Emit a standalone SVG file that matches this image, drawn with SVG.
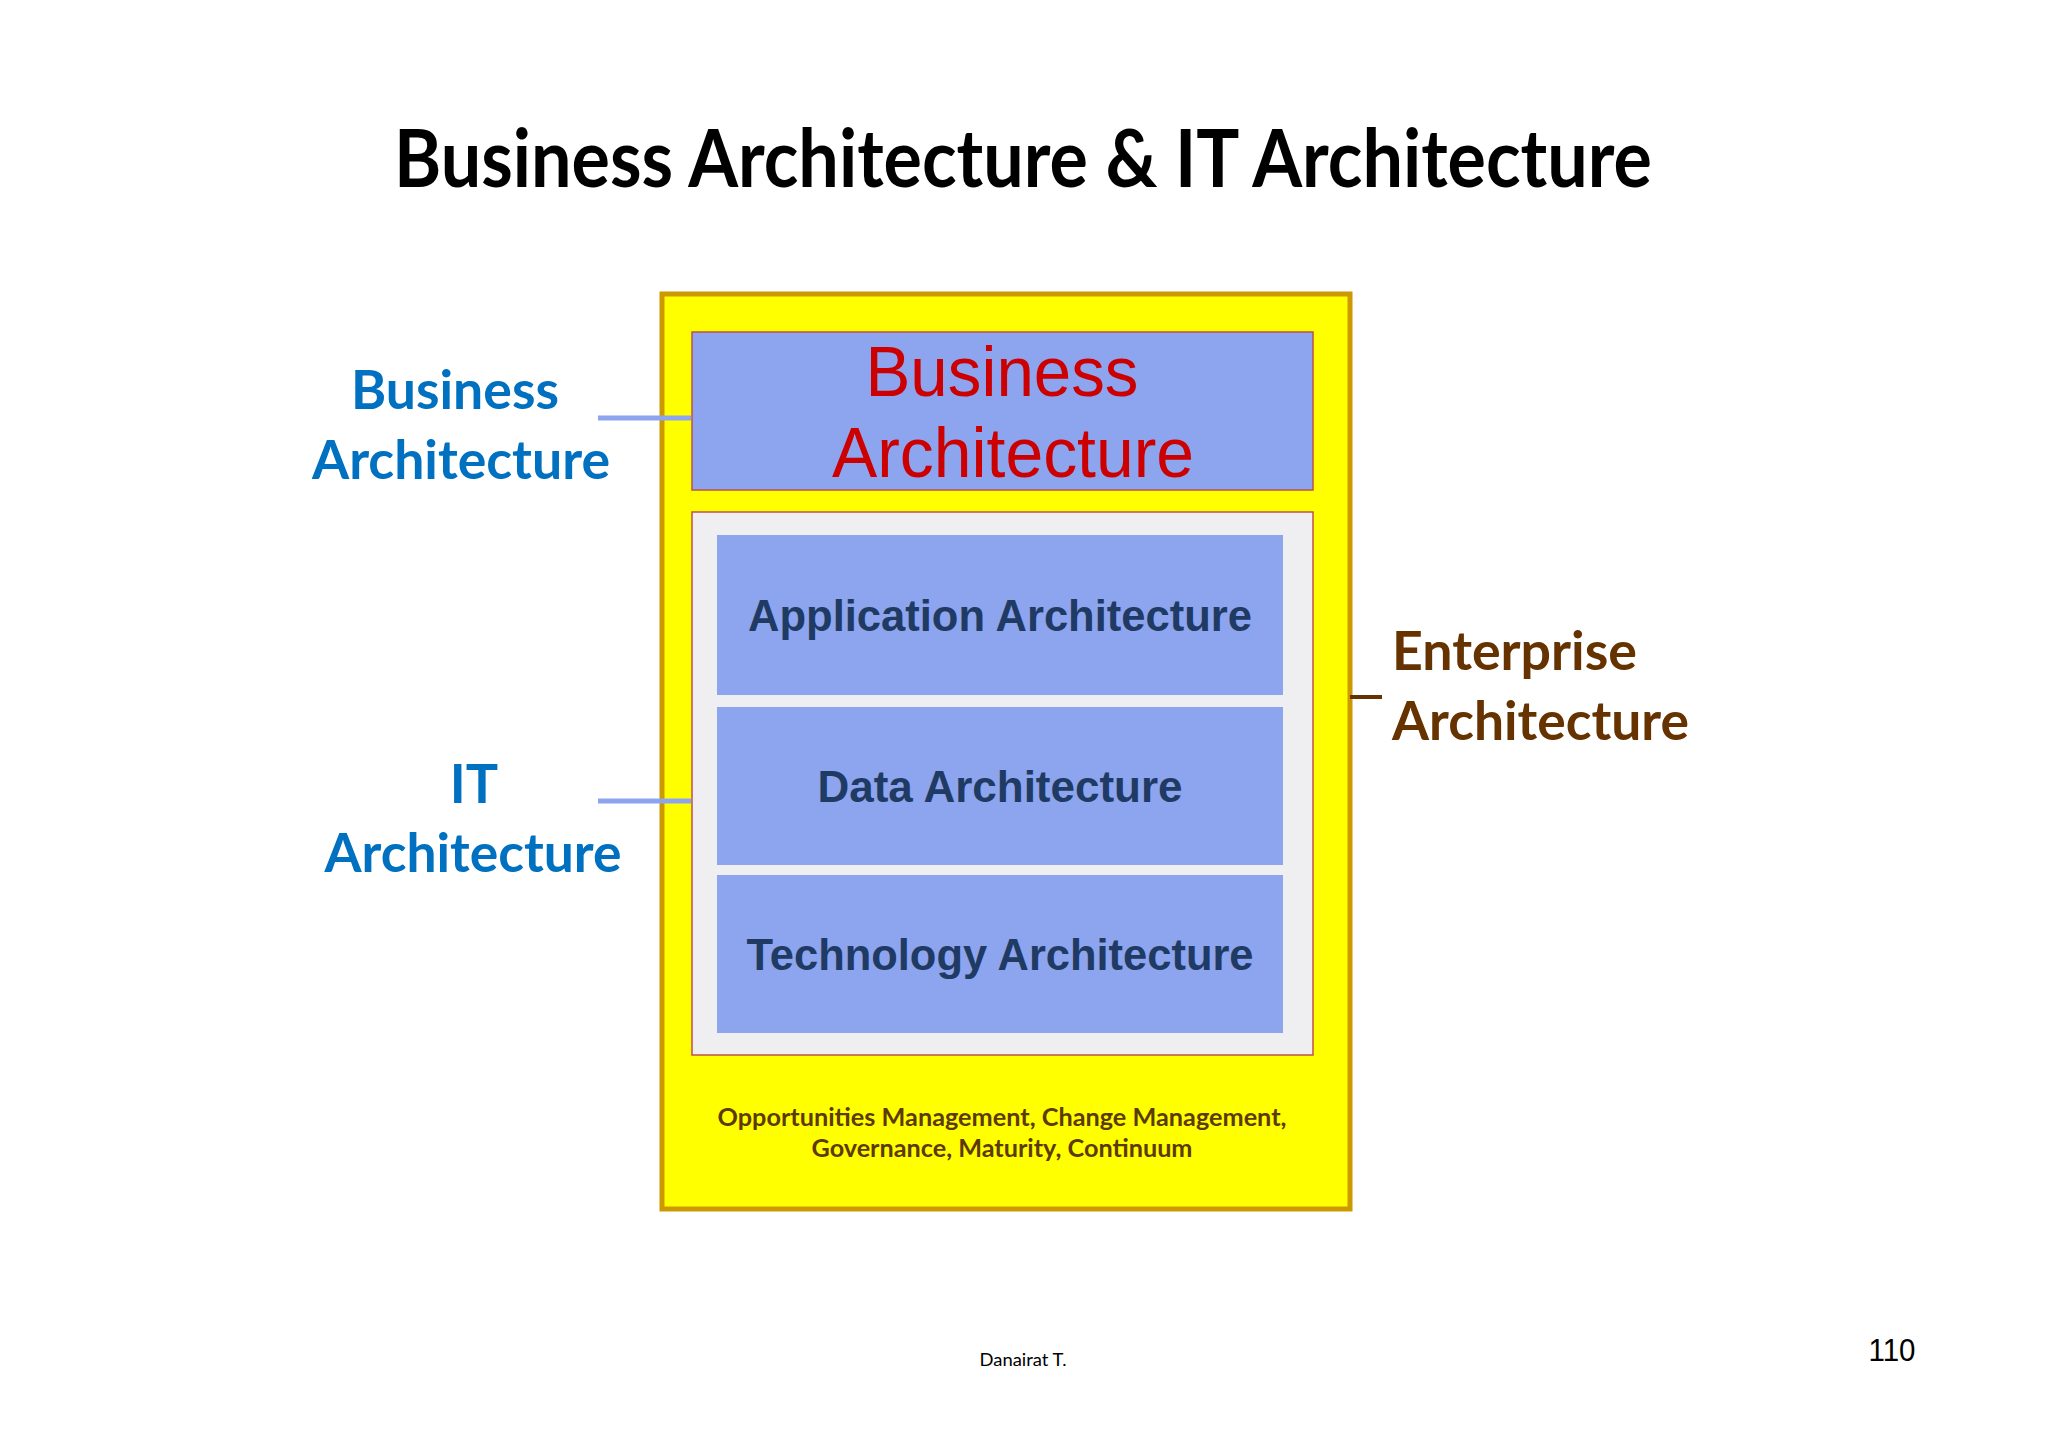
<svg xmlns="http://www.w3.org/2000/svg" width="2048" height="1448" viewBox="0 0 2048 1448">
<style>
.cal{font-family:Lato,"Open Sans","Liberation Sans",sans-serif;font-weight:bold}
.ari{font-family:"Liberation Sans",Arial,sans-serif}
.blue{fill:#8DA4EF}
.box{stroke:#C0504D;stroke-width:1.5}
.inner{fill:#1F3A63;font-size:44px;font-weight:bold;text-anchor:middle}
.lbl{fill:#0070C0;font-size:54px;text-anchor:middle}
.ent{fill:#663300;font-size:54px}
.conn{stroke:#8DA4EF;stroke-width:5;fill:none}
</style>
<rect width="2048" height="1448" fill="#FFFFFF"/>
<g id="title">
<text class="cal" x="1023" y="187" font-size="80" text-anchor="middle" textLength="1258" lengthAdjust="spacingAndGlyphs" fill="#000000">Business Architecture &amp; IT Architecture</text>
</g>
<g id="enterprise-architecture">
<rect x="662" y="294" width="688" height="915" fill="#FFFF00" stroke="#CC9900" stroke-width="5"/>
<text class="cal" x="1002" y="1126" font-size="25" text-anchor="middle" textLength="569" lengthAdjust="spacingAndGlyphs" fill="#5C3A00">Opportunities Management, Change Management,</text>
<text class="cal" x="1002" y="1157" font-size="25" text-anchor="middle" textLength="381" lengthAdjust="spacingAndGlyphs" fill="#5C3A00">Governance, Maturity, Continuum</text>
</g>
<g id="business-architecture">
<rect class="blue box" x="692" y="332" width="621" height="158"/>
<text class="ari" x="1002" y="396" font-size="70" text-anchor="middle" textLength="273" lengthAdjust="spacingAndGlyphs" fill="#CC0000">Business</text>
<text class="ari" x="1013" y="477" font-size="70" text-anchor="middle" textLength="362" lengthAdjust="spacingAndGlyphs" fill="#CC0000">Architecture</text>
</g>
<g id="it-architecture">
<rect class="box" x="692" y="512" width="621" height="543" fill="#EFEFF1"/>
</g>
<g id="application-architecture">
<rect class="blue" x="717" y="535" width="566" height="160"/>
<text class="ari inner" x="1000" y="631" textLength="504" lengthAdjust="spacingAndGlyphs">Application Architecture</text>
</g>
<g id="data-architecture">
<rect class="blue" x="717" y="707" width="566" height="158"/>
<text class="ari inner" x="1000" y="802">Data Architecture</text>
</g>
<g id="technology-architecture">
<rect class="blue" x="717" y="875" width="566" height="158"/>
<text class="ari inner" x="1000" y="970" textLength="507" lengthAdjust="spacingAndGlyphs">Technology Architecture</text>
</g>
<g id="label-business">
<text class="cal lbl" x="455" y="409" textLength="208" lengthAdjust="spacingAndGlyphs">Business</text>
<text class="cal lbl" x="461" y="479" textLength="298" lengthAdjust="spacingAndGlyphs">Architecture</text>
</g>
<g id="label-it">
<text class="cal lbl" x="474" y="803">IT</text>
<text class="cal lbl" x="473" y="872" textLength="297" lengthAdjust="spacingAndGlyphs">Architecture</text>
</g>
<g id="label-enterprise">
<text class="cal ent" x="1392" y="670" textLength="245" lengthAdjust="spacingAndGlyphs">Enterprise</text>
<text class="cal ent" x="1392" y="740" textLength="297" lengthAdjust="spacingAndGlyphs">Architecture</text>
</g>
<g id="connectors">
<line class="conn" x1="598" y1="418" x2="691" y2="418"/>
<line class="conn" x1="598" y1="801" x2="691" y2="801"/>
<line x1="1350" y1="697" x2="1382" y2="697" stroke="#663300" stroke-width="4"/>
</g>
<g id="footer">
<text class="cal" x="1023" y="1366" font-size="17" font-weight="normal" text-anchor="middle" textLength="87" lengthAdjust="spacingAndGlyphs" fill="#000000" style="font-weight:normal">Danairat T.</text>
<text class="ari" x="1892" y="1361" font-size="31" text-anchor="middle" textLength="47" lengthAdjust="spacingAndGlyphs" fill="#000000">110</text>
</g>
</svg>
